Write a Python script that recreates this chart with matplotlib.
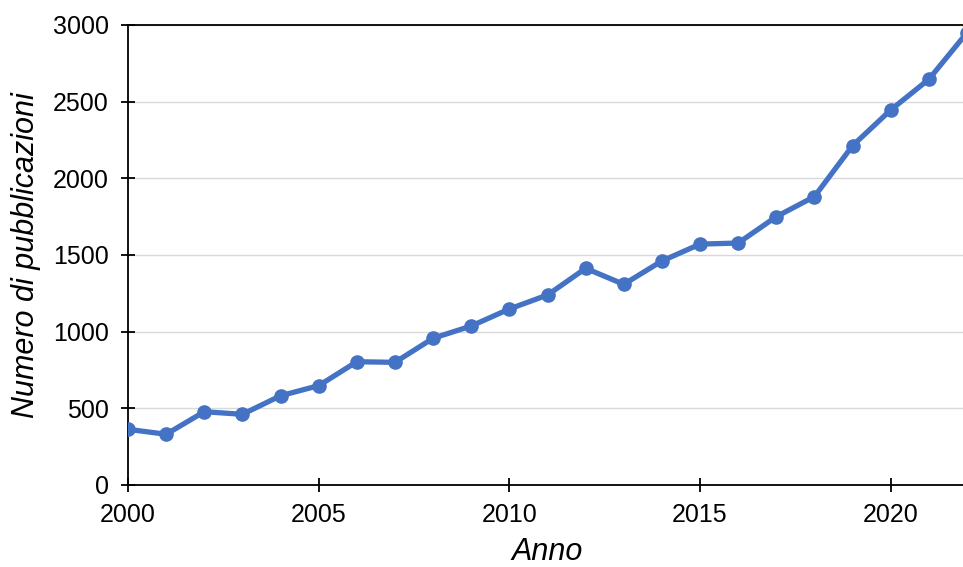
import matplotlib
matplotlib.use("Agg")
import matplotlib.pyplot as plt

# Annual publication counts
anni = list(range(2000, 2023))
pubblicazioni = [363, 331, 478, 461, 582, 648, 804, 800, 957, 1037, 1148,
                 1239, 1413, 1309, 1461, 1571, 1578, 1750, 1881, 2213, 2446,
                 2646, 2950]

y_ticks = [0, 500, 1000, 1500, 2000, 2500, 3000]
x_ticks = [2000, 2005, 2010, 2015, 2020]

plt.rcParams["font.family"] = ["Liberation Sans", "DejaVu Sans"]

fig = plt.figure(figsize=(9.63, 5.67), dpi=100)
# axes run slightly past the right edge of the canvas
ax = fig.add_axes([128 / 963, 82 / 567, 839 / 963, 460 / 567])

ax.plot(anni, pubblicazioni, color="#4472C4", lw=3.8, marker="o",
        markersize=9.5, solid_joinstyle="round", zorder=3)

ax.set_xlim(2000, 2022)
ax.set_ylim(0, 3000)
ax.set_xticks(x_ticks)
ax.set_yticks(y_ticks)
ax.grid(axis="y", color="#d9d9d9", lw=1.0)
ax.set_axisbelow(True)

for side in ["left", "bottom", "top", "right"]:
    ax.spines[side].set_color("black")
    ax.spines[side].set_linewidth(1.3)

ax.tick_params(direction="inout", length=10, width=1.3, labelsize=18,
               colors="black")
ax.tick_params(axis="y", pad=9)
ax.tick_params(axis="x", pad=8)

ax.set_xlabel("Anno", fontsize=22, style="italic", labelpad=7)
ax.set_ylabel("Numero di pubblicazioni", fontsize=22, style="italic",
              labelpad=8)

fig.savefig("out.png", dpi=100)
